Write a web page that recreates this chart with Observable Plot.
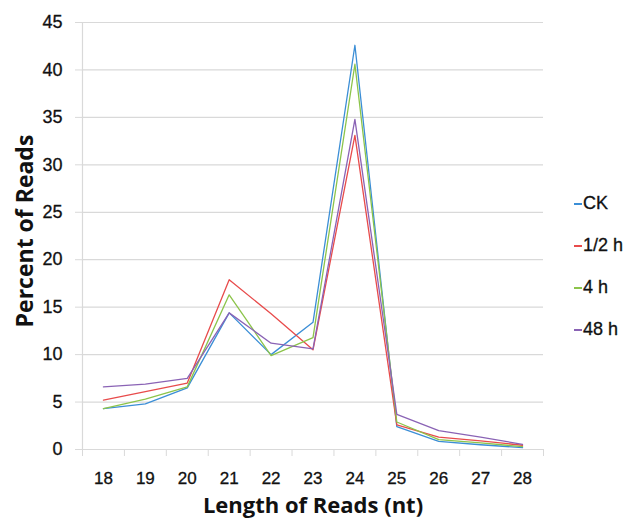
<!DOCTYPE html>
<html>
<head>
<meta charset="utf-8">
<script src="https://cdn.jsdelivr.net/npm/d3@7"></script>
<script src="https://cdn.jsdelivr.net/npm/@observablehq/plot@0.6"></script>
<style>
  html, body { margin: 0; padding: 0; background: #fff; }
  #wrap { position: relative; width: 625px; height: 518px; overflow: hidden; }
  #legend { position: absolute; left: 574px; top: 182px; font-family: "Liberation Sans", Arial, sans-serif; font-size: 18px; color: #111; }
  #legend div { height: 42px; line-height: 42px; white-space: nowrap; -webkit-text-stroke: 0.3px #111; }
  #legend span.m { display: inline-block; width: 8px; height: 2px; vertical-align: middle; margin-right: 1px; }
</style>
</head>
<body>
<div id="wrap"><div id="chart"></div><div id="legend"></div></div>
<script>
const lengths = [18, 19, 20, 21, 22, 23, 24, 25, 26, 27, 28];
const seriesNames = ["CK", "1/2 h", "4 h", "48 h"];
const colors = ["#3b8ed6", "#e84b4b", "#8cc44a", "#8a63b5"];
const ck   = [4.3, 4.8, 6.5, 14.4, 10.0, 13.4, 42.6, 2.4, 0.85, 0.5, 0.2];
const half = [5.2, 6.1, 7.0, 17.9, 14.3, 10.5, 33.1, 2.6, 1.3, 0.9, 0.45];
const h4   = [4.3, 5.3, 6.6, 16.3, 9.9, 11.8, 40.6, 2.9, 1.05, 0.7, 0.3];
const h48  = [6.6, 6.9, 7.5, 14.4, 11.2, 10.6, 34.8, 3.7, 2.0, 1.3, 0.55];
const yTicks = [0, 5, 10, 15, 20, 25, 30, 35, 40, 45];

const allSeries = [ck, half, h4, h48];
const rows = [];
allSeries.forEach((vals, si) => vals.forEach((v, i) => rows.push({len: lengths[i], value: v, series: seriesNames[si]})));

const xMin = lengths[0] - 0.5, xMax = lengths[lengths.length - 1] + 0.5;
const boundaries = d3.range(xMin, xMax + 0.001, 1);
const grid = "#d9d9d9";
const tickFont = "'Liberation Sans', Arial, sans-serif";
const titleFont = "'Open Sans', 'Noto Sans', sans-serif";

const chart = Plot.plot({
  width: 625,
  height: 518,
  marginLeft: 82,
  marginRight: 82,
  marginTop: 22,
  marginBottom: 69,
  style: {background: "#fff"},
  x: {domain: [xMin, xMax]},
  y: {domain: [0, 45]},
  color: {domain: seriesNames, range: colors},
  marks: [
    Plot.gridY(yTicks.slice(1), {stroke: grid, strokeOpacity: 1, strokeWidth: 1.2}),
    Plot.axisY(yTicks, {tickSize: 7, tickPadding: 13, stroke: grid, strokeOpacity: 1, fontSize: 18, fontFamily: tickFont, fill: "#111", label: null}),
    Plot.ruleX([xMin], {stroke: grid, strokeWidth: 1.2}),
    Plot.ruleY([0], {stroke: grid, strokeWidth: 1.2}),
    Plot.axisX(boundaries, {tickSize: 7, stroke: grid, strokeOpacity: 1, tickFormat: () => "", label: null}),
    Plot.axisX(lengths, {tickSize: 0, tickPadding: 22, fontSize: 17, fontFamily: tickFont, fill: "#111", tickFormat: d => String(d), label: null}),
    Plot.line(rows, {x: "len", y: "value", z: "series", stroke: "series", strokeWidth: 1.3}),
    Plot.text(["Percent of Reads"], {frameAnchor: "left", textAnchor: "middle", dx: -57, dy: -5, rotate: -90, fontSize: 23, fontWeight: "bold", fontFamily: titleFont, fill: "#111"}),
    Plot.text(["Length of Reads (nt)"], {frameAnchor: "bottom", lineAnchor: "middle", dy: 56, fontSize: 22, fontWeight: "bold", fontFamily: titleFont, fill: "#111"})
  ]
});
// slightly heavier tick labels, as in the reference
d3.select(chart).selectAll("g[aria-label='x-axis tick label'] text, g[aria-label='y-axis tick label'] text")
  .attr("stroke", "#111").attr("stroke-width", 0.3);
document.getElementById("chart").appendChild(chart);

const legend = document.getElementById("legend");
seriesNames.forEach((name, i) => {
  const d = document.createElement("div");
  const m = document.createElement("span");
  m.className = "m";
  m.style.background = colors[i];
  d.appendChild(m);
  d.appendChild(document.createTextNode(name));
  legend.appendChild(d);
});
</script>
</body>
</html>
